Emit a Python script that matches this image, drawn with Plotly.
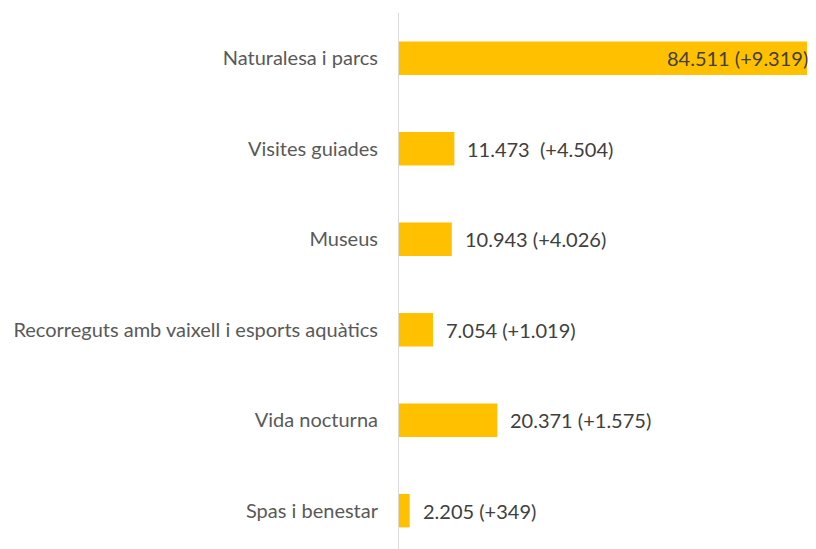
import plotly.graph_objects as go

categories = ["Naturalesa i parcs", "Visites guiades", "Museus",
              "Recorreguts amb vaixell i esports aquàtics", "Vida nocturna", "Spas i benestar"]
values = [84511, 11473, 10943, 7054, 20371, 2205]
labels = ["84.511 (+9.319)", "11.473  (+4.504)", "10.943 (+4.026)",
          "7.054 (+1.019)", "20.371 (+1.575)", "2.205 (+349)"]

FONT = "Lato, sans-serif"

fig = go.Figure(go.Bar(
    x=values, y=categories, orientation="h",
    marker=dict(color="#FFC000", line=dict(width=0)),
    width=0.37, hoverinfo="skip",
))

for v, c, t in zip(values, categories, labels):
    inside = v == max(values)
    fig.add_annotation(
        x=v, y=c, text=t, showarrow=False,
        xanchor="right" if inside else "left",
        xshift=3 if inside else 11,
        font=dict(family=FONT, size=20, color="#404040"),
    )

fig.update_layout(
    width=816, height=549,
    margin=dict(l=391, r=17, t=5, b=2, autoexpand=False),
    paper_bgcolor="white", plot_bgcolor="white",
    showlegend=False,
    font=dict(family=FONT, size=20, color="#595959"),
    xaxis=dict(range=[0, max(values)], visible=False),
    yaxis=dict(
        type="category", range=[5.49, -0.5], automargin=False,
        showline=True, linecolor="#d9d9d9", linewidth=1,
        showgrid=False, ticks="", ticklabelstandoff=16,
        tickfont=dict(family=FONT, size=20, color="#595959"),
    ),
)

fig.write_html("out.html")
